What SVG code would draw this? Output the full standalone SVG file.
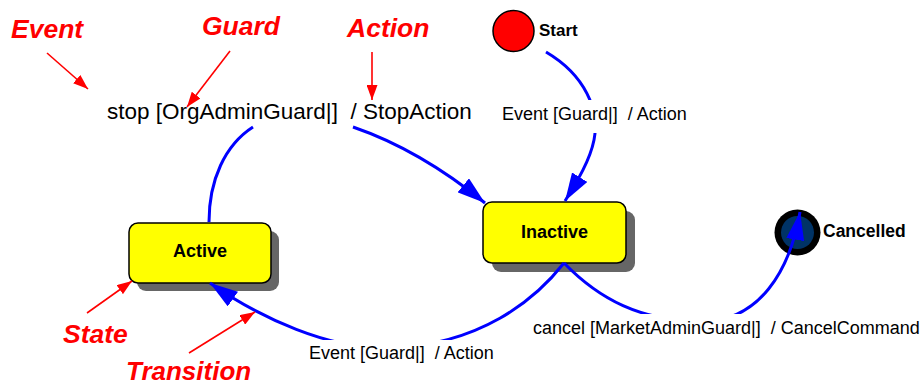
<svg xmlns="http://www.w3.org/2000/svg" width="923" height="386" viewBox="0 0 923 386">
  <style>
    .state { fill: #ffff00; stroke: #000; stroke-width: 1.5; }
    .shadow { fill: #666666; }
    .name { font-family: "Liberation Sans", Arial, sans-serif; font-weight: bold; font-size: 18px; fill: #000; }
    .tr { fill: none; stroke: #0000ff; stroke-width: 3; }
    .lbl { font-family: "Liberation Sans", Arial, sans-serif; font-size: 18px; fill: #000; white-space: pre; }
    .bg { fill: #fff; }
    .note { font-family: "Liberation Sans", Arial, sans-serif; font-weight: bold; font-style: italic; font-size: 26.5px; fill: #ff0000; }
    .pointer { stroke: #ff0000; stroke-width: 1.6; fill: none; }
  </style>
  <defs>
    <marker id="head" markerUnits="userSpaceOnUse" viewBox="0 0 28 18" markerWidth="28" markerHeight="18" refX="28" refY="9" orient="auto">
      <path d="M0,0 L28,9 L0,18 z" fill="#0000ff"/>
    </marker>
    <marker id="redhead" markerUnits="userSpaceOnUse" viewBox="0 0 15 11" markerWidth="15" markerHeight="11" refX="15" refY="5.5" orient="auto">
      <path d="M0,0 L15,5.5 L0,11 z" fill="#ff0000"/>
    </marker>
  </defs>

  <rect width="923" height="386" fill="#fff"/>

  <g id="start">
    <circle cx="513.5" cy="31" r="20.5" fill="#ff0000" stroke="#000" stroke-width="1.5"/>
    <text class="name" x="539" y="36" style="font-size:17px">Start</text>
  </g>

  <g id="active">
    <rect class="shadow" x="137" y="231" width="142" height="60" rx="9"/>
    <rect class="state" x="129" y="223" width="142" height="60" rx="9"/>
    <text class="name" x="200" y="257" text-anchor="middle">Active</text>
  </g>

  <g id="inactive">
    <rect class="shadow" x="492" y="211" width="143" height="61" rx="9"/>
    <rect class="state" x="483" y="202" width="143" height="61" rx="9"/>
    <text class="name" x="554.5" y="238" text-anchor="middle">Inactive</text>
  </g>

  <g id="cancelled">
    <circle cx="797.5" cy="232.5" r="23" fill="#000"/>
    <circle cx="797.5" cy="232.5" r="16.5" fill="#003366"/>
    <text class="name" x="823" y="237" style="font-size:17.5px">Cancelled</text>
  </g>

  <!-- transitions -->
  <g id="connectors">
    <path class="tr" d="M209,222 C209,180 225,145 253,127"/>
    <path class="tr" d="M353,127 Q420,150 485,203" marker-end="url(#head)"/>
    <path class="tr" d="M546,52 C585,75 600,110 594,140 C590,160 578,180 565,201" marker-end="url(#head)"/>
    <path class="tr" d="M564,263 C535,300 480,345 390,348 C330,350 260,318 210,283" marker-end="url(#head)"/>
    <path class="tr" d="M564,263 C600,300 640,320 700,322 C760,322 790,270 800,212" marker-end="url(#head)"/>
  </g>

  <!-- transition labels -->
  <g id="labels">
    <text class="lbl" x="107" y="119" style="font-size:22.5px" xml:space="preserve">stop [OrgAdminGuard|]  / StopAction</text>
    <rect class="bg" x="500" y="100" width="192" height="33"/>
    <text class="lbl" x="502" y="120" xml:space="preserve">Event [Guard|]  / Action</text>
    <rect class="bg" x="305" y="340" width="192" height="26"/>
    <text class="lbl" x="309" y="359" xml:space="preserve">Event [Guard|]  / Action</text>
    <rect class="bg" x="530" y="314" width="393" height="26"/>
    <text class="lbl" x="533" y="334" xml:space="preserve">cancel [MarketAdminGuard|]  / CancelCommand</text>
  </g>

  <!-- annotations -->
  <g id="annotations">
    <text class="note" x="11" y="38">Event</text>
    <line class="pointer" x1="47" y1="53" x2="88" y2="89" marker-end="url(#redhead)"/>
    <text class="note" x="202" y="35">Guard</text>
    <line class="pointer" x1="230" y1="51" x2="187" y2="107" marker-end="url(#redhead)"/>
    <text class="note" x="347" y="37">Action</text>
    <line class="pointer" x1="372" y1="52" x2="372" y2="100" marker-end="url(#redhead)"/>
    <text class="note" x="63" y="343">State</text>
    <line class="pointer" x1="87" y1="313" x2="132" y2="281" marker-end="url(#redhead)"/>
    <text class="note" x="126" y="380" style="font-size:26px">Transition</text>
    <line class="pointer" x1="189" y1="353" x2="255" y2="312" marker-end="url(#redhead)"/>
  </g>
</svg>
